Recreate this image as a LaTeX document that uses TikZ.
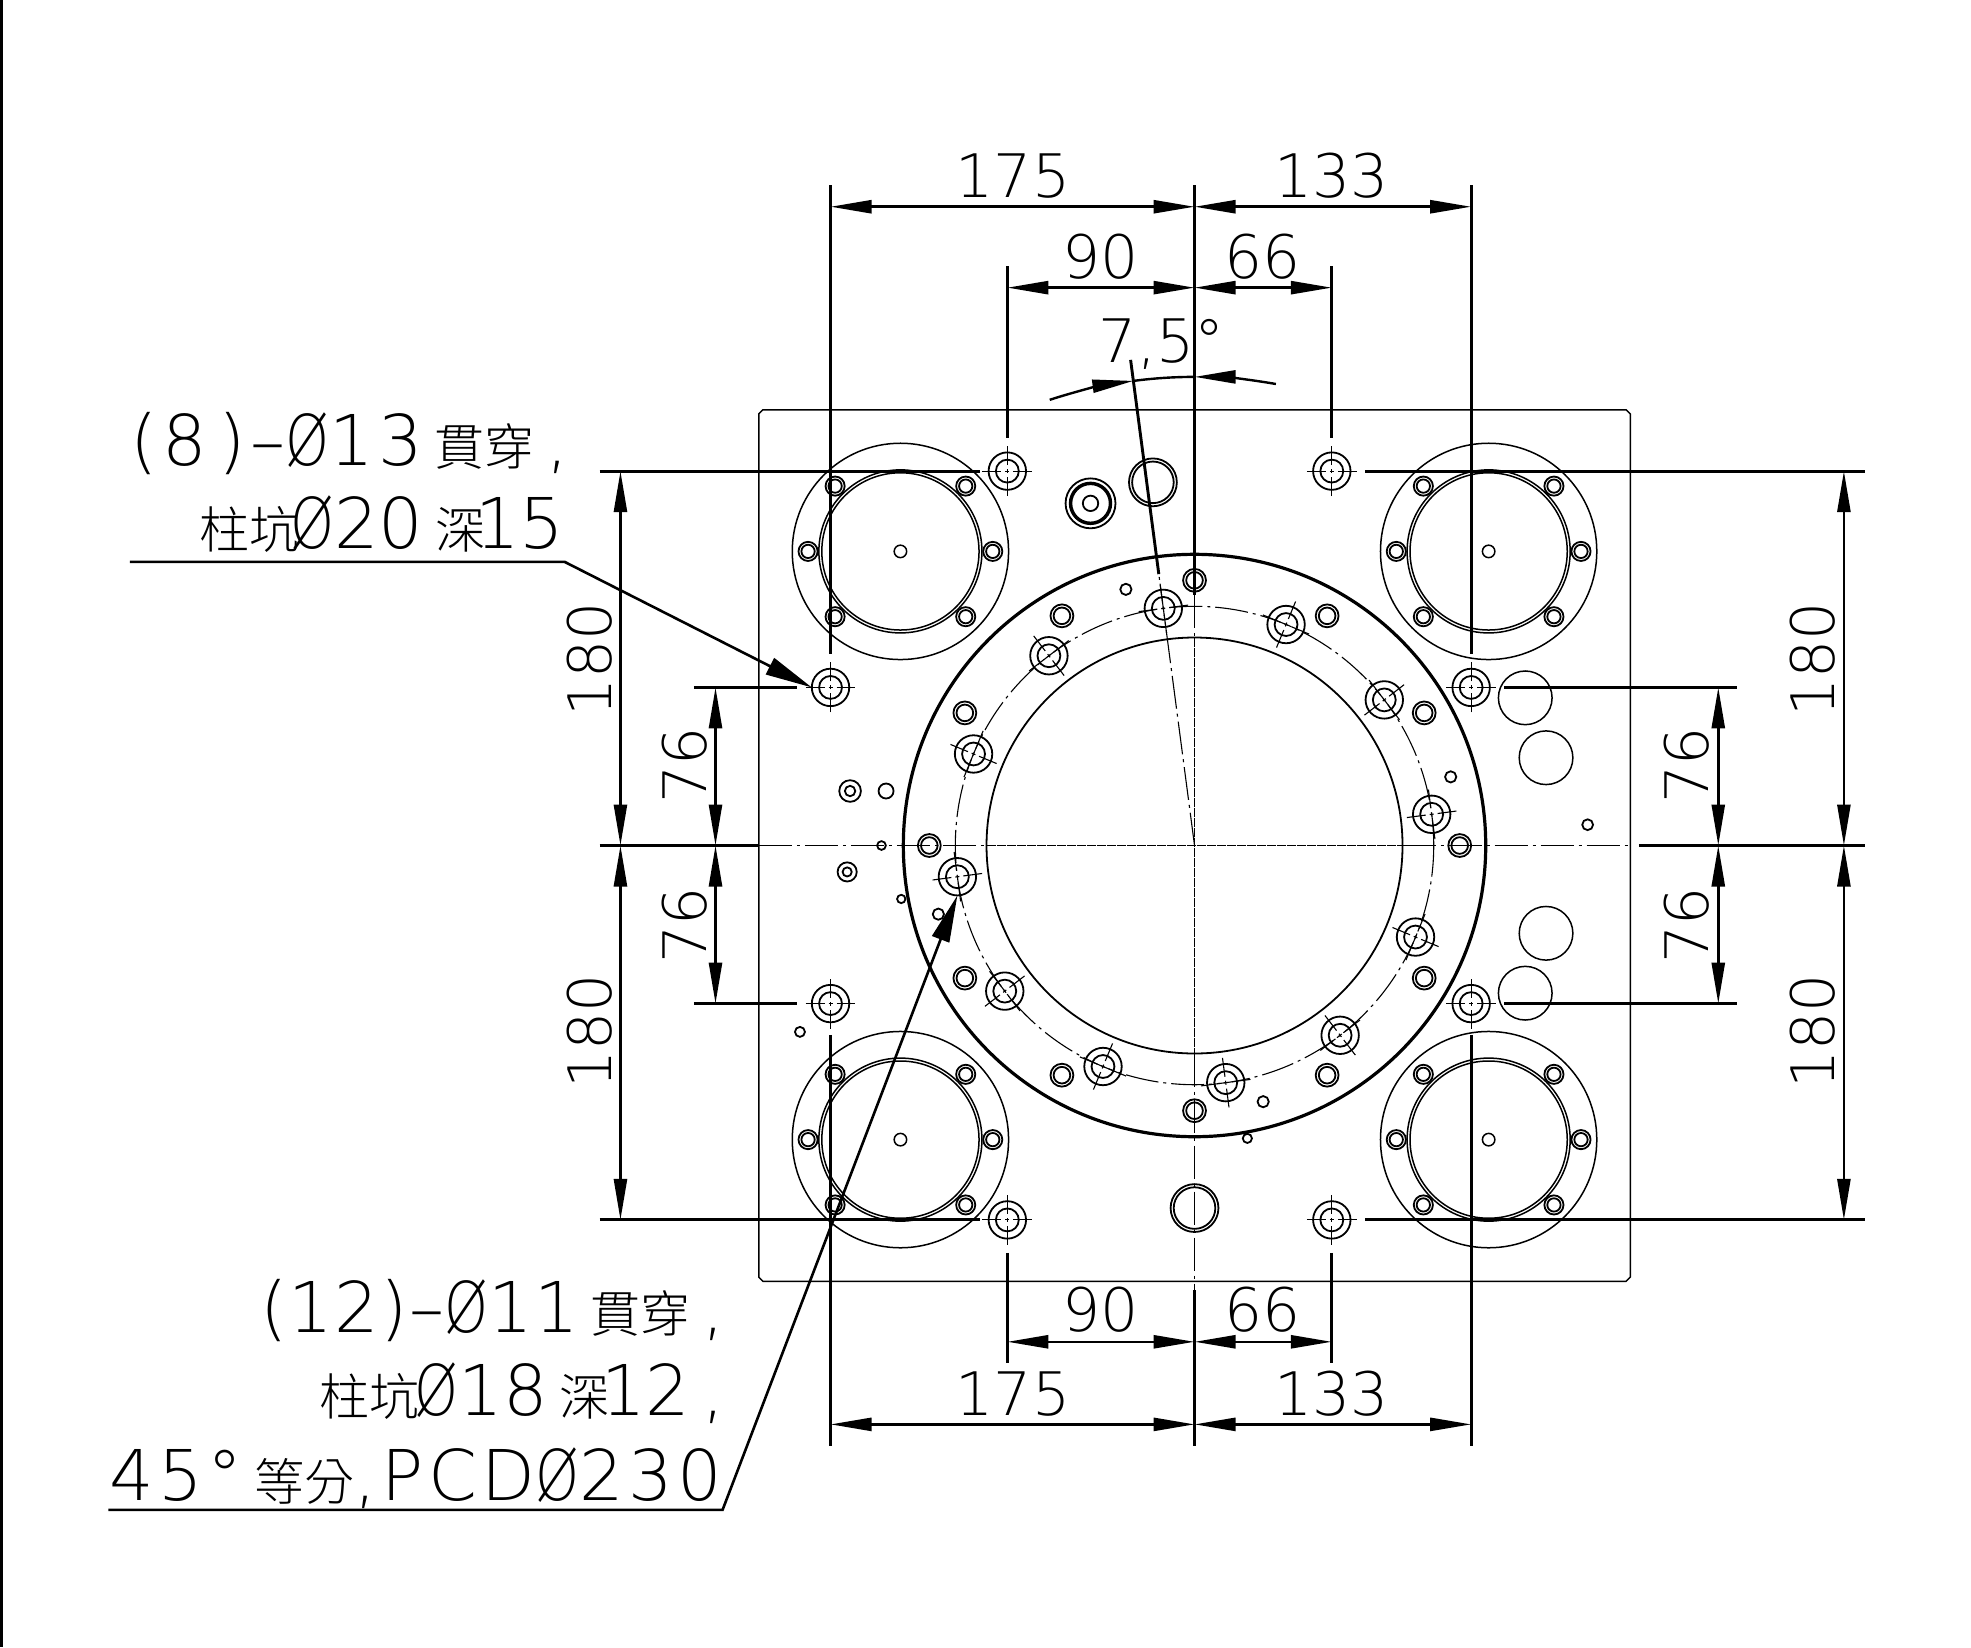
\documentclass[tikz,border=0pt]{standalone}
\usepackage{fontspec}
\usetikzlibrary{arrows.meta}
\newfontfamily\dimfont{DejaVu Sans ExtraLight}
\newfontfamily\callfont[LetterSpace=6.5]{DejaVu Sans ExtraLight}
\newfontfamily\midfont[LetterSpace=2]{DejaVu Sans ExtraLight}
\newfontfamily\cjkfont{Noto Sans CJK TC Light}
\newcommand{\cj}[1]{{\cjkfont\fontsize{50}{50}\selectfont #1}}
\newcommand{\dia}{\scalebox{0.8}[1]{Ø}}
\tikzset{
  every node/.style={inner sep=0pt,outer sep=0pt},
  thinline/.style={line width=1.5pt},
  holeline/.style={line width=1.8pt},
  dimline/.style={line width=2.6pt,<->,>={Triangle[length=41pt,width=13pt]}},
  arcline/.style={line width=2.4pt},
  arctip/.style={arcline,-{Triangle[length=41pt,width=13pt]}},
  extline/.style={line width=2.9pt},
  leader/.style={line width=2.6pt,-{Triangle[length=47pt,width=18pt]}},
  centerline/.style={line width=1.1pt,dash pattern=on 33pt off 5pt on 3pt off 5pt},
  axisline/.style={line width=1.5pt,dash pattern=on 9pt off 1pt},
  crossmark/.style={line width=1.1pt,dash pattern=on 19pt off 4pt on 4pt off 4pt on 19pt off 10pt},
  dimtext/.style={font=\dimfont\fontsize{60}{60}\selectfont},
  calltext/.style={font=\dimfont\fontsize{70}{70}\selectfont,anchor=base east},
  boltring/.style={draw,holeline,circle,minimum size=37.44pt},
  boltcore/.style={draw,holeline,circle,minimum size=22.88pt},
}
\begin{document}
\begin{tikzpicture}[x=2.08pt,y=2.08pt]
\useasboundingbox (-574.3,406.5) rectangle (373.3,-385.4);
% frame
\draw[line width=3pt] (-573.6,406.5) -- (-573.6,-385.4);
% plate
\draw[thinline] (-209.5,207.5) -- (-207.5,209.5) -- (207.5,209.5) -- (209.5,207.5) -- (209.5,-207.5) -- (207.5,-209.5) -- (-207.5,-209.5) -- (-209.5,-207.5) -- cycle;
% centre lines
\draw[centerline] (-209.5,0) -- (-100,0) (100,0) -- (209.5,0);
\draw[axisline] (-100,0) -- (100,0);
\draw[centerline] (0,120.5) -- (0,100) (0,-100) -- (0,-213.7);
\draw[axisline] (0,100) -- (0,-100);
\draw[centerline] (0,0) -- (97.5:131);
% table
\draw[line width=3.2pt] (0,0) circle (140);
\draw[holeline] (0,0) circle (100);
\draw[centerline] (0,0) circle (115);
% corner flanges
\foreach \cx/\cy in {-141.4/141.4,141.4/141.4,-141.4/-141.4,141.4/-141.4}{
  \begin{scope}[shift={(\cx,\cy)}]
    \draw[thinline] (0,0) circle (52) (0,0) circle (39.2) (0,0) circle (37.8) (0,0) circle (3);
    \foreach \a in {0,45,135,180,225,315}{
      \draw[holeline] (\a:44.4) circle (4.6) (\a:44.4) circle (3.2);
    }
  \end{scope}
}
% counterbored holes, 8 places
\foreach \n/\x/\y in {a/-90/180,b/66/180,c/-90/-180,d/66/-180,e/-175/76,f/-175/-76,g/133/76,h/133/-76}{
  \node[boltring] (cb\n) at (\x,\y) {};
  \node[boltcore] at (\x,\y) {};
  \draw[crossmark] (\x-12,\y) -- (\x+12,\y);
  \draw[crossmark] (\x,\y-12) -- (\x,\y+12);
}
% counterbored holes on the pitch circle, 12 places
\foreach \i in {0,...,11}{
  \pgfmathsetmacro\ang{97.5-30*\i}
  \node[boltring] (pc\i) at (\ang:115) {};
  \node[boltcore] at (\ang:115) {};
  \begin{scope}[shift={(\ang:115)},rotate=\ang]
    \draw[crossmark] (-12,0) -- (12,0);
    \draw[crossmark] (0,-12) -- (0,12);
  \end{scope}
  \pgfmathsetmacro\angb{90-30*\i}
  \draw[holeline] (\angb:127.5) circle (5.5) (\angb:127.5) circle (4);
}
% small holes
\foreach \a in {105,15,-75,195}{
  \draw[holeline] (\a:127.5) circle (2.7);
}
\foreach \x/\y/\r in {25.4/-140.8/2.2,-141/-25.7/2,-189.7/-89.6/2.4,189/10/2.6,-148.3/26.2/3.6,-150.5/0/2.1}{
  \draw[holeline] (\x,\y) circle (\r);
}
\foreach \x/\y/\ra/\rb in {-165.6/26.2/5.2/2.5,-167/-12.7/4.6/2.2}{
  \draw[holeline] (\x,\y) circle (\ra) (\x,\y) circle (\rb);
}
\foreach \x/\y in {159/71,169/42.2,169/-42.2,159/-71}{
  \draw[thinline] (\x,\y) circle (12.9);
}
\draw[holeline] (-50,164.5) circle (12) (-50,164.5) circle (10) (-50,164.5) circle (9.2) (-50,164.5) circle (3.7);
\draw[holeline] (-20,174.6) circle (11.5) (-20,174.6) circle (10);
\draw[holeline] (0,-174.3) circle (11.5) (0,-174.3) circle (10);
% extension lines
\foreach \x/\ya/\yb in {0/317.5/120.5,-175/317.5/92.3,133/317.5/92.3,-90/278.6/195.9,66/278.6/195.9,
  0/-213.7/-288.7,-175/-91/-288.7,133/-91/-288.7,-90/-195.8/-249,66/-195.8/-249}{
  \draw[extline] (\x,\ya) -- (\x,\yb);
}
\foreach \xa/\xb/\y in {-286/-103/180,82/322.5/180,-286/-103/-180,82/322.5/-180,-286/-209.5/0,213.6/322.5/0,
  -240.7/-191/76,-240.7/-191/-76,149/260.8/76,149/260.8/-76}{
  \draw[extline] (\xa,\y) -- (\xb,\y);
}
\draw[extline] (97.5:235.5) -- (97.5:131.6);
% dimensions
\foreach \n/\x/\y in {ta/-175/307.1,tb/0/307.1,tc/133/307.1,ua/-90/268.2,ub/0/268.2,uc/66/268.2,
  ba/-175/-278.3,bb/0/-278.3,bc/133/-278.3,va/-90/-238.6,vb/0/-238.6,vc/66/-238.6,
  la/-276/180,lb/-276/0,lc/-276/-180,ra/312.2/180,rb/312.2/0,rc/312.2/-180,
  ma/-230.3/76,mb/-230.3/0,mc/-230.3/-76,na/251.8/76,nb/251.8/0,nc/251.8/-76}{
  \coordinate (\n) at (\x,\y);
}
\foreach \from/\to in {ta/tb,tc/tb,ua/ub,uc/ub,ba/bb,bc/bb,va/vb,vc/vb,la/lb,lc/lb,ra/rb,rc/rb,ma/mb,mc/mb,na/nb,nc/nb}{
  \draw[dimline] (\from) -- (\to);
}
\draw[arctip] (108:225.3) arc (108:97.5:225.3);
\draw[arcline] (97.5:225.3) arc (97.5:90:225.3);
\draw[arctip] (80:225.3) arc (80:90:225.3);
% dimension texts
\foreach \n/\x/\y/\t in {d1/-87.3/311.4/175,d2/66/311.4/133,d3/-45/272.7/90,d4/32.7/272.7/66,
  d5/-87.3/-273.8/175,d6/66/-273.8/133,d7/-45/-233.7/90,d8/32.7/-233.7/66}{
  \node[dimtext,anchor=base] (\n) at (\x,\y) {\t};
}
\foreach \n/\x/\y/\t in {s1/-290.6/89.5/180,s2/-290.6/-89.5/180,s3/297.2/89.5/180,s4/297.2/-89.5/180,
  s5/-245/38.5/76,s6/-245/-38.5/76,s7/236.6/38.5/76,s8/236.6/-38.5/76}{
  \node[dimtext,rotate=90] (\n) at (\x,\y) {\t};
}
\node[dimtext,anchor=base west] (ang) at (-46,232) {7,5°};
% callouts
\node[calltext] (c1) at (-301,182.5) {\callfont(8\,)–\dia 13\,\cj{貫穿}\,,};
\node[calltext] (c2) at (-303,143) {\cj{柱坑}\kern-9pt\dia 20\,\cj{深}\kern-10pt 15};
\node[calltext] (c3) at (-226,-234.2) {\midfont(12)–\dia 11\,\cj{貫穿}\,,};
\node[calltext] (c4) at (-226,-274) {\cj{柱坑}\kern-5pt\dia 18\,\cj{深}\kern-8pt 12\,,};
\node[calltext] (c5) at (-227,-315) {\callfont 45°\,\cj{等分},PCD\dia 230};
\coordinate (ca) at (-511.8,136.4);
\coordinate (cb) at (-302.9,136.4);
\coordinate (cc) at (-522.2,-319.4);
\coordinate (cd) at (-226.9,-319.4);
\draw[leader] (ca) -- (cb) -- (cbe.west);
\draw[leader] (cc) -- (cd) -- (pc9.south);
\end{tikzpicture}
\end{document}
